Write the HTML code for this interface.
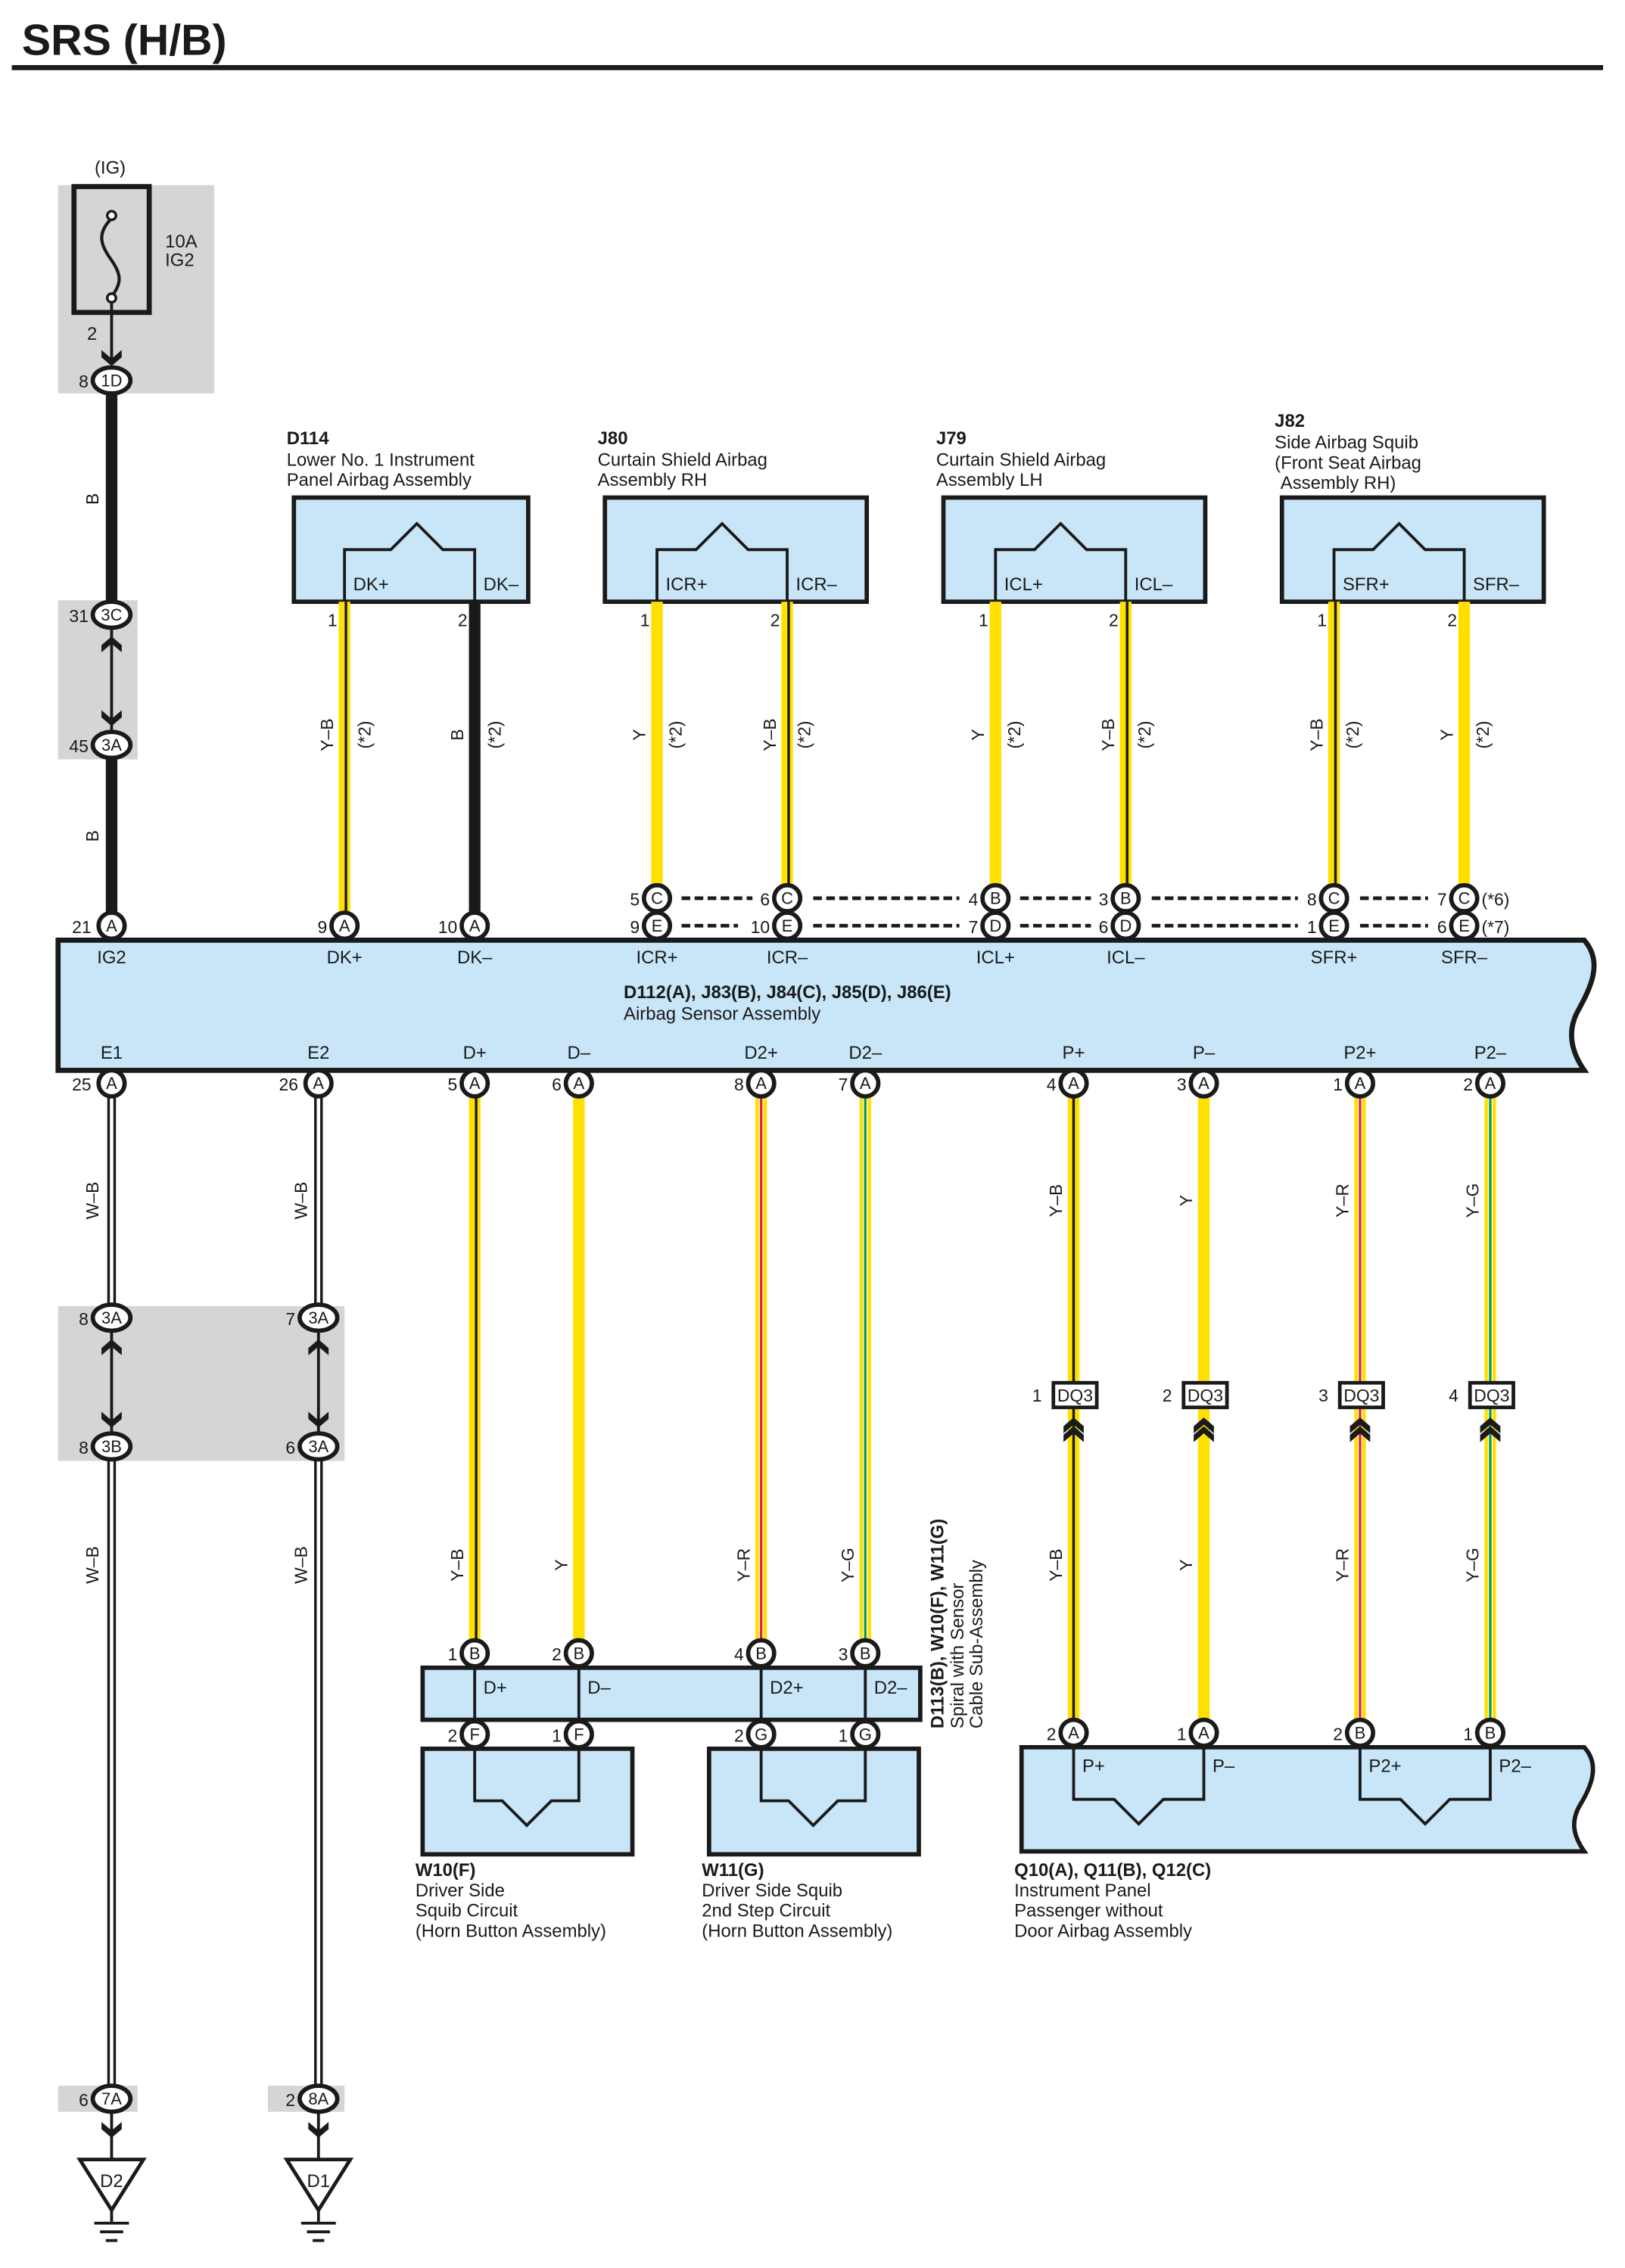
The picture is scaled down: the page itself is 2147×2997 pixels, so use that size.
<!DOCTYPE html>
<html><head><meta charset="utf-8"><style>
html,body{margin:0;padding:0;background:#fff}
svg{display:block}
text{font-family:"Liberation Sans",sans-serif;fill:#1a1a1a}
</style></head><body>
<svg width="2147" height="2997" viewBox="0 0 1123 1568" xmlns="http://www.w3.org/2000/svg">
<defs>
<path id="chd" d="M-7,-9 L0,-3 L7,-9 L7,-4 L0,2 L-7,-4 Z" fill="#1a1a1a"/>
<path id="chu" d="M-7,9 L0,3 L7,9 L7,4 L0,-2 L-7,4 Z" fill="#1a1a1a"/>
</defs>
<rect width="1123" height="1568" fill="#fff"/>
<text x="15" y="38" font-size="30" font-weight="bold">SRS (H/B)</text>
<rect x="8" y="45" width="1100" height="3.5" fill="#1a1a1a"/>

<!-- grey boxes -->
<g fill="#d4d5d7">
<rect x="40" y="128" width="108" height="144"/>
<rect x="40" y="415" width="55" height="110"/>
<rect x="40" y="903" width="198" height="107"/>
<rect x="40" y="1442" width="55" height="18"/>
<rect x="185" y="1442" width="53" height="18"/>
</g>

<!-- fuse -->
<text x="76" y="120" font-size="12.5" text-anchor="middle">(IG)</text>
<rect x="51" y="129" width="52" height="87" fill="none" stroke="#1a1a1a" stroke-width="3.5"/>
<path d="M77,151 C66,162 70,170 77,180 C84,190 84,196 77,205" fill="none" stroke="#1a1a1a" stroke-width="2.2"/>
<circle cx="77" cy="149" r="3" fill="#fff" stroke="#1a1a1a" stroke-width="1.8"/>
<circle cx="77" cy="206" r="3" fill="#fff" stroke="#1a1a1a" stroke-width="1.8"/>
<text x="114" y="171" font-size="12.5">10A</text>
<text x="114" y="184" font-size="12.5">IG2</text>
<line x1="77" y1="209" x2="77" y2="250" stroke="#1a1a1a" stroke-width="2"/>
<text x="67" y="235" font-size="12.5" text-anchor="end">2</text>
<use href="#chd" x="77" y="251"/>

<!-- B wire left -->
<line x1="77" y1="270" x2="77" y2="640" stroke="#1a1a1a" stroke-width="8"/>
<rect x="72" y="433" width="10" height="72" fill="#d4d5d7"/>
<line x1="77" y1="433" x2="77" y2="505" stroke="#1a1a1a" stroke-width="2"/>
<use href="#chu" x="77" y="442"/>
<use href="#chd" x="77" y="500"/>
<text transform="translate(68,345) rotate(-90)" font-size="12" text-anchor="middle">B</text>
<text transform="translate(68,578) rotate(-90)" font-size="12" text-anchor="middle">B</text>

<!-- W-B wires -->
<g>
<line x1="77" y1="749" x2="77" y2="1451" stroke="#1a1a1a" stroke-width="6"/>
<line x1="77" y1="749" x2="77" y2="1451" stroke="#fff" stroke-width="2.4"/>
<line x1="220" y1="749" x2="220" y2="1451" stroke="#1a1a1a" stroke-width="6"/>
<line x1="220" y1="749" x2="220" y2="1451" stroke="#fff" stroke-width="2.4"/>
<rect x="72" y="920" width="10" height="70" fill="#d4d5d7"/>
<rect x="215" y="920" width="10" height="70" fill="#d4d5d7"/>
<line x1="77" y1="920" x2="77" y2="990" stroke="#1a1a1a" stroke-width="2"/>
<line x1="220" y1="920" x2="220" y2="990" stroke="#1a1a1a" stroke-width="2"/>
<use href="#chu" x="77" y="928"/><use href="#chd" x="77" y="985"/>
<use href="#chu" x="220" y="928"/><use href="#chd" x="220" y="985"/>
</g>
<g font-size="12" text-anchor="middle">
<text transform="translate(68,830) rotate(-90)">W–B</text>
<text transform="translate(68,1082) rotate(-90)">W–B</text>
<text transform="translate(212,830) rotate(-90)">W–B</text>
<text transform="translate(212,1082) rotate(-90)">W–B</text>
</g>

<!-- grounds -->
<g stroke="#1a1a1a" fill="#1a1a1a">
<line x1="77" y1="1460" x2="77" y2="1492" stroke-width="2"/>
<line x1="220" y1="1460" x2="220" y2="1492" stroke-width="2"/>
</g>
<use href="#chd" x="77" y="1476"/><use href="#chd" x="220" y="1476"/>
<g fill="#fff" stroke="#1a1a1a" stroke-width="2.5">
<path d="M55,1493 H99 L77,1528 Z"/>
<path d="M198,1493 H242 L220,1528 Z"/>
</g>
<text x="77" y="1512" font-size="12.5" text-anchor="middle">D2</text>
<text x="220" y="1512" font-size="12.5" text-anchor="middle">D1</text>
<g stroke="#1a1a1a" stroke-width="2">
<line x1="77" y1="1528" x2="77" y2="1536"/><line x1="65" y1="1537" x2="89" y2="1537"/><line x1="69" y1="1543" x2="85" y2="1543"/><line x1="73" y1="1549" x2="81" y2="1549"/>
<line x1="220" y1="1528" x2="220" y2="1536"/><line x1="208" y1="1537" x2="232" y2="1537"/><line x1="212" y1="1543" x2="228" y2="1543"/><line x1="216" y1="1549" x2="224" y2="1549"/>
</g>

<!-- top component boxes -->
<g fill="#c8e6f8" stroke="#1a1a1a" stroke-width="3">
<rect x="203" y="344" width="162" height="72"/>
<rect x="418" y="344" width="181" height="72"/>
<rect x="652" y="344" width="181" height="72"/>
<rect x="886" y="344" width="181" height="72"/>
</g>
<g fill="none" stroke="#1a1a1a" stroke-width="2">
<path d="M238,416 V380 H270 L288,362 L306,380 H328 V416"/>
<path d="M454,416 V380 H481 L499,362 L517,380 H544 V416"/>
<path d="M688,416 V380 H715 L733,362 L751,380 H778 V416"/>
<path d="M922,416 V380 H949 L967,362 L985,380 H1012 V416"/>
</g>
<g font-size="12.5">
<text x="244" y="408">DK+</text><text x="334" y="408">DK–</text>
<text x="460" y="408">ICR+</text><text x="550" y="408">ICR–</text>
<text x="694" y="408">ICL+</text><text x="784" y="408">ICL–</text>
<text x="928" y="408">SFR+</text><text x="1018" y="408">SFR–</text>
</g>
<g font-size="12.5">
<text x="198" y="307" font-weight="bold">D114</text>
<text x="198" y="322">Lower No.  1 Instrument</text>
<text x="198" y="336">Panel Airbag Assembly</text>
<text x="413" y="307" font-weight="bold">J80</text>
<text x="413" y="322">Curtain Shield Airbag</text>
<text x="413" y="336">Assembly RH</text>
<text x="647" y="307" font-weight="bold">J79</text>
<text x="647" y="322">Curtain Shield Airbag</text>
<text x="647" y="336">Assembly LH</text>
<text x="881" y="295" font-weight="bold">J82</text>
<text x="881" y="310">Side Airbag Squib</text>
<text x="881" y="324">(Front Seat Airbag</text>
<text x="885" y="338">Assembly RH)</text>
</g>

<!-- top wires -->
<g stroke-width="8" stroke="#ffe000">
<line x1="238" y1="416" x2="238" y2="632"/>
<line x1="454" y1="416" x2="454" y2="614"/>
<line x1="544" y1="416" x2="544" y2="614"/>
<line x1="688" y1="416" x2="688" y2="614"/>
<line x1="778" y1="416" x2="778" y2="614"/>
<line x1="922" y1="416" x2="922" y2="614"/>
<line x1="1012" y1="416" x2="1012" y2="614"/>
</g>
<line x1="328" y1="416" x2="328" y2="632" stroke="#1a1a1a" stroke-width="8"/>
<g stroke="#1a1a1a" stroke-width="1.8">
<line x1="239" y1="416" x2="239" y2="632"/>
<line x1="545" y1="416" x2="545" y2="614"/>
<line x1="779" y1="416" x2="779" y2="614"/>
<line x1="923" y1="416" x2="923" y2="614"/>
</g>
<g font-size="12" text-anchor="end">
<text x="233" y="433">1</text><text x="323" y="433">2</text>
<text x="449" y="433">1</text><text x="539" y="433">2</text>
<text x="683" y="433">1</text><text x="773" y="433">2</text>
<text x="917" y="433">1</text><text x="1007" y="433">2</text>
</g>
<g font-size="12" text-anchor="middle">
<text transform="translate(230,508) rotate(-90)">Y–B</text><text transform="translate(256,508) rotate(-90)">(*2)</text>
<text transform="translate(320,508) rotate(-90)">B</text><text transform="translate(346,508) rotate(-90)">(*2)</text>
<text transform="translate(446,508) rotate(-90)">Y</text><text transform="translate(471,508) rotate(-90)">(*2)</text>
<text transform="translate(536,508) rotate(-90)">Y–B</text><text transform="translate(560,508) rotate(-90)">(*2)</text>
<text transform="translate(680,508) rotate(-90)">Y</text><text transform="translate(705,508) rotate(-90)">(*2)</text>
<text transform="translate(770,508) rotate(-90)">Y–B</text><text transform="translate(795,508) rotate(-90)">(*2)</text>
<text transform="translate(914,508) rotate(-90)">Y–B</text><text transform="translate(939,508) rotate(-90)">(*2)</text>
<text transform="translate(1004,508) rotate(-90)">Y</text><text transform="translate(1029,508) rotate(-90)">(*2)</text>
</g>

<!-- dashed lines -->
<g stroke="#1a1a1a" stroke-width="2.5" stroke-dasharray="6,3">
<line x1="471" y1="621" x2="520" y2="621"/><line x1="562" y1="621" x2="663" y2="621"/>
<line x1="705" y1="621" x2="754" y2="621"/><line x1="796" y1="621" x2="897" y2="621"/>
<line x1="940" y1="621" x2="987" y2="621"/>
<line x1="471" y1="640" x2="510" y2="640"/><line x1="562" y1="640" x2="663" y2="640"/>
<line x1="705" y1="640" x2="754" y2="640"/><line x1="796" y1="640" x2="897" y2="640"/>
<line x1="940" y1="640" x2="987" y2="640"/>
</g>

<!-- main assembly -->
<path d="M40,650 H1095 C1108,665 1100,682 1090,700 C1082,716 1088,730 1095,740 H40 Z" fill="#c8e6f8" stroke="#1a1a1a" stroke-width="3.5"/>
<g font-size="12.5" text-anchor="middle">
<text x="77" y="666">IG2</text><text x="238" y="666">DK+</text><text x="328" y="666">DK–</text>
<text x="454" y="666">ICR+</text><text x="544" y="666">ICR–</text><text x="688" y="666">ICL+</text>
<text x="778" y="666">ICL–</text><text x="922" y="666">SFR+</text><text x="1012" y="666">SFR–</text>
<text x="77" y="732">E1</text><text x="220" y="732">E2</text><text x="328" y="732">D+</text>
<text x="400" y="732">D–</text><text x="526" y="732">D2+</text><text x="598" y="732">D2–</text>
<text x="742" y="732">P+</text><text x="832" y="732">P–</text><text x="940" y="732">P2+</text><text x="1030" y="732">P2–</text>
</g>
<text x="431" y="690" font-size="12.5" font-weight="bold">D112(A), J83(B), J84(C), J85(D), J86(E)</text>
<text x="431" y="705" font-size="12.5">Airbag Sensor Assembly</text>

<!-- lower wires D section -->
<g stroke="#ffe000" stroke-width="8">
<line x1="328" y1="758" x2="328" y2="1135"/><line x1="400" y1="758" x2="400" y2="1135"/>
<line x1="526" y1="758" x2="526" y2="1135"/><line x1="598" y1="758" x2="598" y2="1135"/>
<line x1="742" y1="758" x2="742" y2="1190"/><line x1="832" y1="758" x2="832" y2="1190"/>
<line x1="940" y1="758" x2="940" y2="1190"/><line x1="1030" y1="758" x2="1030" y2="1190"/>
</g>
<g stroke="#fff" stroke-width="3.2">
<line x1="526" y1="758" x2="526" y2="1135"/><line x1="598" y1="758" x2="598" y2="1135"/>
<line x1="940" y1="758" x2="940" y2="1190"/><line x1="1030" y1="758" x2="1030" y2="1190"/>
</g>
<g stroke-width="1.8">
<line x1="329" y1="758" x2="329" y2="1135" stroke="#1a1a1a"/>
<line x1="526" y1="758" x2="526" y2="1135" stroke="#e8262b"/>
<line x1="598" y1="758" x2="598" y2="1135" stroke="#109a48"/>
<line x1="742" y1="758" x2="742" y2="1190" stroke="#1a1a1a"/>
<line x1="940" y1="758" x2="940" y2="1190" stroke="#e8262b"/>
<line x1="1030" y1="758" x2="1030" y2="1190" stroke="#109a48"/>
</g>
<g font-size="12" text-anchor="middle">
<text transform="translate(320,1082) rotate(-90)">Y–B</text>
<text transform="translate(392,1082) rotate(-90)">Y</text>
<text transform="translate(518,1082) rotate(-90)">Y–R</text>
<text transform="translate(590,1082) rotate(-90)">Y–G</text>
<text transform="translate(734,830) rotate(-90)">Y–B</text>
<text transform="translate(824,830) rotate(-90)">Y</text>
<text transform="translate(932,830) rotate(-90)">Y–R</text>
<text transform="translate(1022,830) rotate(-90)">Y–G</text>
<text transform="translate(734,1082) rotate(-90)">Y–B</text>
<text transform="translate(824,1082) rotate(-90)">Y</text>
<text transform="translate(932,1082) rotate(-90)">Y–R</text>
<text transform="translate(1022,1082) rotate(-90)">Y–G</text>
</g>

<!-- DQ3 -->
<g fill="#fff" stroke="#1a1a1a" stroke-width="2.5">
<rect x="728" y="956" width="30" height="17"/><rect x="818" y="956" width="30" height="17"/>
<rect x="926" y="956" width="30" height="17"/><rect x="1016" y="956" width="30" height="17"/>
</g>
<g font-size="12" text-anchor="middle">
<text x="743" y="969">DQ3</text><text x="833" y="969">DQ3</text><text x="941" y="969">DQ3</text><text x="1031" y="969">DQ3</text>
</g>
<g font-size="12" text-anchor="end">
<text x="720" y="969">1</text><text x="810" y="969">2</text><text x="918" y="969">3</text><text x="1008" y="969">4</text>
</g>
<g>
<use href="#chu" x="742" y="982"/><use href="#chu" x="742" y="988"/>
<use href="#chu" x="832" y="982"/><use href="#chu" x="832" y="988"/>
<use href="#chu" x="940" y="982"/><use href="#chu" x="940" y="988"/>
<use href="#chu" x="1030" y="982"/><use href="#chu" x="1030" y="988"/>
</g>

<!-- spiral bar -->
<rect x="292" y="1153" width="344" height="36" fill="#c8e6f8" stroke="#1a1a1a" stroke-width="3"/>
<g stroke="#1a1a1a" stroke-width="2">
<line x1="328" y1="1153" x2="328" y2="1189"/><line x1="400" y1="1153" x2="400" y2="1189"/>
<line x1="526" y1="1153" x2="526" y2="1189"/><line x1="598" y1="1153" x2="598" y2="1189"/>
</g>
<g font-size="12.5">
<text x="334" y="1171">D+</text><text x="406" y="1171">D–</text><text x="532" y="1171">D2+</text><text x="604" y="1171">D2–</text>
</g>
<g font-size="12.5">
<text transform="translate(652,1195) rotate(-90)" font-weight="bold">D113(B), W10(F), W11(G)</text>
<text transform="translate(666,1195) rotate(-90)">Spiral with Sensor</text>
<text transform="translate(679,1195) rotate(-90)">Cable Sub-Assembly</text>
</g>

<!-- W10 / W11 -->
<g fill="#c8e6f8" stroke="#1a1a1a" stroke-width="3">
<rect x="292" y="1209" width="145" height="73"/>
<rect x="490" y="1209" width="145" height="73"/>
</g>
<g fill="none" stroke="#1a1a1a" stroke-width="2">
<path d="M328,1209 V1245 H347 L364,1262 L381,1245 H400 V1209"/>
<path d="M526,1209 V1245 H545 L562,1262 L579,1245 H598 V1209"/>
</g>
<g font-size="12.5">
<text x="287" y="1297" font-weight="bold">W10(F)</text>
<text x="287" y="1311">Driver Side</text>
<text x="287" y="1325">Squib Circuit</text>
<text x="287" y="1339">(Horn Button Assembly)</text>
<text x="485" y="1297" font-weight="bold">W11(G)</text>
<text x="485" y="1311">Driver Side Squib</text>
<text x="485" y="1325">2nd Step Circuit</text>
<text x="485" y="1339">(Horn Button Assembly)</text>
</g>

<!-- Q box -->
<path d="M706,1208 H1095 C1106,1220 1100,1235 1092,1248 C1085,1260 1088,1270 1095,1280 H706 Z" fill="#c8e6f8" stroke="#1a1a1a" stroke-width="3"/>
<g fill="none" stroke="#1a1a1a" stroke-width="2">
<path d="M742,1208 V1244 H770 L787,1261 L804,1244 H832 V1208"/>
<path d="M940,1208 V1244 H968 L985,1261 L1002,1244 H1030 V1208"/>
</g>
<g font-size="12.5">
<text x="748" y="1225">P+</text><text x="838" y="1225">P–</text><text x="946" y="1225">P2+</text><text x="1036" y="1225">P2–</text>
<text x="701" y="1297" font-weight="bold">Q10(A), Q11(B), Q12(C)</text>
<text x="701" y="1311">Instrument Panel</text>
<text x="701" y="1325">Passenger without</text>
<text x="701" y="1339">Door Airbag Assembly</text>
</g>

<!-- connectors: round -->
<g fill="#fff" stroke="#1a1a1a" stroke-width="3">
<ellipse cx="77" cy="263" rx="13" ry="9"/>
<ellipse cx="77" cy="425" rx="13" ry="9"/>
<ellipse cx="77" cy="515" rx="13" ry="9"/>
<ellipse cx="77" cy="911" rx="13" ry="9"/>
<ellipse cx="77" cy="1000" rx="13" ry="9"/>
<ellipse cx="220" cy="911" rx="13" ry="9"/>
<ellipse cx="220" cy="1000" rx="13" ry="9"/>
<ellipse cx="77" cy="1451" rx="13" ry="9"/>
<ellipse cx="220" cy="1451" rx="13" ry="9"/>
<circle cx="77" cy="640" r="9"/><circle cx="238" cy="640" r="9"/><circle cx="328" cy="640" r="9"/>
<circle cx="454" cy="621" r="9"/><circle cx="454" cy="640" r="9"/>
<circle cx="544" cy="621" r="9"/><circle cx="544" cy="640" r="9"/>
<circle cx="688" cy="621" r="9"/><circle cx="688" cy="640" r="9"/>
<circle cx="778" cy="621" r="9"/><circle cx="778" cy="640" r="9"/>
<circle cx="922" cy="621" r="9"/><circle cx="922" cy="640" r="9"/>
<circle cx="1012" cy="621" r="9"/><circle cx="1012" cy="640" r="9"/>
<circle cx="77" cy="749" r="9"/><circle cx="220" cy="749" r="9"/><circle cx="328" cy="749" r="9"/>
<circle cx="400" cy="749" r="9"/><circle cx="526" cy="749" r="9"/><circle cx="598" cy="749" r="9"/>
<circle cx="742" cy="749" r="9"/><circle cx="832" cy="749" r="9"/><circle cx="940" cy="749" r="9"/><circle cx="1030" cy="749" r="9"/>
<circle cx="328" cy="1143" r="9"/><circle cx="400" cy="1143" r="9"/><circle cx="526" cy="1143" r="9"/><circle cx="598" cy="1143" r="9"/>
<circle cx="328" cy="1199" r="9"/><circle cx="400" cy="1199" r="9"/><circle cx="526" cy="1199" r="9"/><circle cx="598" cy="1199" r="9"/>
<circle cx="742" cy="1198" r="9"/><circle cx="832" cy="1198" r="9"/><circle cx="940" cy="1198" r="9"/><circle cx="1030" cy="1198" r="9"/>
</g>
<g font-size="11.5" text-anchor="middle">
<text x="77" y="267">1D</text><text x="77" y="429">3C</text><text x="77" y="519">3A</text>
<text x="77" y="915">3A</text><text x="77" y="1004">3B</text><text x="220" y="915">3A</text><text x="220" y="1004">3A</text>
<text x="77" y="1455">7A</text><text x="220" y="1455">8A</text>
<text x="77" y="644">A</text><text x="238" y="644">A</text><text x="328" y="644">A</text>
<text x="454" y="625">C</text><text x="454" y="644">E</text><text x="544" y="625">C</text><text x="544" y="644">E</text>
<text x="688" y="625">B</text><text x="688" y="644">D</text><text x="778" y="625">B</text><text x="778" y="644">D</text>
<text x="922" y="625">C</text><text x="922" y="644">E</text><text x="1012" y="625">C</text><text x="1012" y="644">E</text>
<text x="77" y="753">A</text><text x="220" y="753">A</text><text x="328" y="753">A</text><text x="400" y="753">A</text>
<text x="526" y="753">A</text><text x="598" y="753">A</text><text x="742" y="753">A</text><text x="832" y="753">A</text>
<text x="940" y="753">A</text><text x="1030" y="753">A</text>
<text x="328" y="1147">B</text><text x="400" y="1147">B</text><text x="526" y="1147">B</text><text x="598" y="1147">B</text>
<text x="328" y="1203">F</text><text x="400" y="1203">F</text><text x="526" y="1203">G</text><text x="598" y="1203">G</text>
<text x="742" y="1202">A</text><text x="832" y="1202">A</text><text x="940" y="1202">B</text><text x="1030" y="1202">B</text>
</g>
<g font-size="12" text-anchor="end">
<text x="61" y="268">8</text><text x="61" y="430">31</text><text x="61" y="520">45</text>
<text x="61" y="916">8</text><text x="61" y="1005">8</text><text x="204" y="916">7</text><text x="204" y="1005">6</text>
<text x="61" y="1456">6</text><text x="204" y="1456">2</text>
<text x="63" y="645">21</text><text x="226" y="645">9</text><text x="316" y="645">10</text>
<text x="442" y="626">5</text><text x="442" y="645">9</text><text x="532" y="626">6</text><text x="532" y="645">10</text>
<text x="676" y="626">4</text><text x="676" y="645">7</text><text x="766" y="626">3</text><text x="766" y="645">6</text>
<text x="910" y="626">8</text><text x="910" y="645">1</text><text x="1000" y="626">7</text><text x="1000" y="645">6</text>
<text x="63" y="754">25</text><text x="206" y="754">26</text><text x="316" y="754">5</text><text x="388" y="754">6</text>
<text x="514" y="754">8</text><text x="586" y="754">7</text><text x="730" y="754">4</text><text x="820" y="754">3</text>
<text x="928" y="754">1</text><text x="1018" y="754">2</text>
<text x="316" y="1148">1</text><text x="388" y="1148">2</text><text x="514" y="1148">4</text><text x="586" y="1148">3</text>
<text x="316" y="1204">2</text><text x="388" y="1204">1</text><text x="514" y="1204">2</text><text x="586" y="1204">1</text>
<text x="730" y="1203">2</text><text x="820" y="1203">1</text><text x="928" y="1203">2</text><text x="1018" y="1203">1</text>
</g>
<g font-size="12">
<text x="1024" y="626">(*6)</text><text x="1024" y="645">(*7)</text>
</g>
</svg>
</body></html>
